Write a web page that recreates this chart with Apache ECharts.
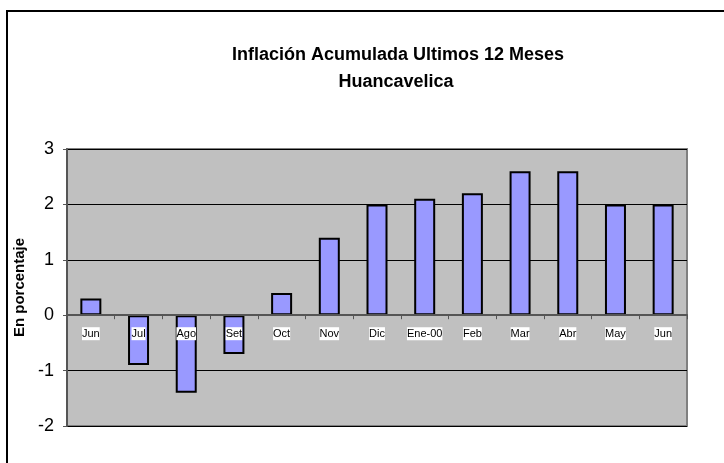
<!DOCTYPE html>
<html>
<head>
<meta charset="utf-8">
<script src="https://cdn.jsdelivr.net/npm/echarts@6/dist/echarts.min.js"></script>
<style>
  html, body { margin: 0; padding: 0; background: #fff; }
  #chart { width: 724px; height: 463px; }
</style>
</head>
<body>
<div id="chart"></div>
<script>
// datos
var meses = ['Jun', 'Jul', 'Ago', 'Set', 'Oct', 'Nov', 'Dic', 'Ene-00', 'Feb', 'Mar', 'Abr', 'May', 'Jun'];
var inflacion = [0.3, -0.9, -1.4, -0.7, 0.4, 1.4, 2.0, 2.1, 2.2, 2.6, 2.6, 2.0, 2.0];
var yMin = -2;
var yMax = 3;

var gridTop = 149, gridBottom = 426;
// el eje de categorias se dibuja sobre el cero
var zeroOffset = (gridBottom - gridTop) * (0 - yMin) / (yMax - yMin);

var myChart = echarts.init(document.getElementById('chart'));
var option = {
  animation: false,
  graphic: [
    {
      // marco exterior
      type: 'rect',
      shape: { x: 7, y: 11, width: 760, height: 500 },
      style: { fill: 'none', stroke: '#000', lineWidth: 2 },
      silent: true
    },
    {
      type: 'text',
      style: {
        text: 'Inflación Acumulada Ultimos 12 Meses',
        x: 398, y: 55,
        align: 'center',
        verticalAlign: 'middle',
        font: 'bold 18px "Liberation Sans", Arial, sans-serif',
        fill: '#000'
      }
    },
    {
      type: 'text',
      style: {
        text: 'Huancavelica',
        x: 396, y: 82,
        align: 'center',
        verticalAlign: 'middle',
        font: 'bold 18px "Liberation Sans", Arial, sans-serif',
        fill: '#000'
      }
    }
  ],
  grid: {
    left: 67,
    right: 724 - 687,
    top: gridTop,
    bottom: 463 - gridBottom,
    show: true,
    backgroundColor: '#c0c0c0',
    borderColor: '#808080',
    borderWidth: 2
  },
  xAxis: {
    type: 'category',
    data: meses,
    z: 10,
    offset: -zeroOffset,
    axisLine: { onZero: false, lineStyle: { color: '#555', width: 2 } },
    axisTick: { show: true, inside: false, length: 4, lineStyle: { color: '#555' } },
    axisLabel: {
      interval: 0,
      margin: 12,
      fontSize: 11,
      fontFamily: '"Liberation Sans Narrow", "Arial Narrow", sans-serif',
      color: '#000',
      backgroundColor: '#fff',
      padding: [1, 0, 1, 0]
    }
  },
  yAxis: {
    type: 'value',
    min: yMin,
    max: yMax,
    interval: 1,
    name: 'En porcentaje',
    nameLocation: 'middle',
    nameGap: 33,
    nameTextStyle: {
      fontWeight: 'bold',
      fontSize: 15,
      fontFamily: '"Liberation Sans", Arial, sans-serif',
      color: '#000'
    },
    axisLine: { show: true, lineStyle: { color: '#555', width: 2 } },
    axisTick: { show: true, length: 4, lineStyle: { color: '#555' } },
    axisLabel: {
      fontSize: 18,
      margin: 13,
      fontFamily: '"Liberation Sans", Arial, sans-serif',
      color: '#000'
    },
    splitLine: { show: true, lineStyle: { color: '#000', width: 1 } }
  },
  series: [
    {
      type: 'bar',
      data: inflacion,
      barWidth: 21,
      itemStyle: {
        color: '#9999ff',
        borderColor: '#000',
        borderWidth: 2
      }
    }
  ]
};
myChart.setOption(option);
</script>
</body>
</html>
